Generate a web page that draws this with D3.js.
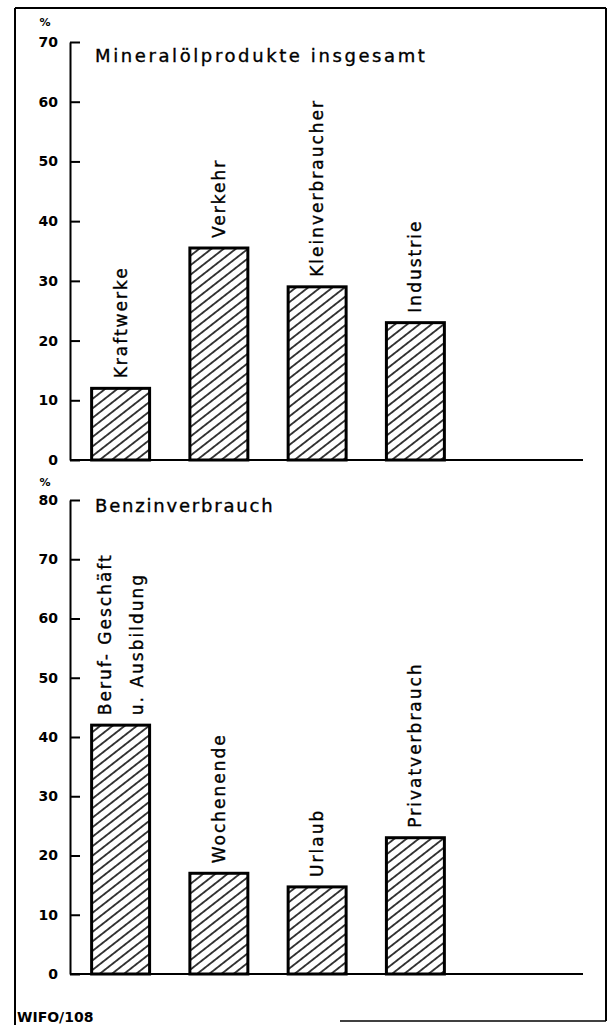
<!DOCTYPE html>
<html>
<head>
<meta charset="utf-8">
<script src="https://d3js.org/d3.v7.min.js"></script>
<style>
  body { margin: 0; background: #fff; }
  svg text { font-family: "DejaVu Sans", sans-serif; fill: #000; }
  .tick text { font-weight: bold; font-size: 14px; }
  .lbl { font-size: 17px; letter-spacing: 2px; stroke: #000; stroke-width: 0.35px; }
  .ttl { font-size: 18px; stroke: #000; stroke-width: 0.35px; }
</style>
</head>
<body>
<div id="chart"></div>
<script>
// Mineralölprodukte insgesamt
var topCats = ["Kraftwerke", "Verkehr", "Kleinverbraucher", "Industrie"];
var topValues = [12, 35.5, 29, 23];
var topTicks = [0, 10, 20, 30, 40, 50, 60, 70];

// Benzinverbrauch
var botCats = [["Beruf- Geschäft", "u. Ausbildung"], ["Wochenende"], ["Urlaub"], ["Privatverbrauch"]];
var botValues = [42, 17, 14.7, 23];
var botTicks = [0, 10, 20, 30, 40, 50, 60, 70, 80];

var width = 609, height = 1025;

var svg = d3.select("#chart").append("svg")
    .attr("width", width)
    .attr("height", height);

// hatch pattern
var defs = svg.append("defs");
defs.append("pattern")
    .attr("id", "hatch")
    .attr("patternUnits", "userSpaceOnUse")
    .attr("width", 7.5).attr("height", 7.5)
    .attr("patternTransform", "rotate(-38)")
  .append("line")
    .attr("x1", 0).attr("y1", 3.75).attr("x2", 7.5).attr("y2", 3.75)
    .attr("stroke", "#000").attr("stroke-width", 1.5);

// frame
var frame = svg.append("g").attr("fill", "none").attr("stroke", "#000").attr("stroke-width", 2);
frame.append("line").attr("x1", 15).attr("y1", 8).attr("x2", 606).attr("y2", 8);
frame.append("line").attr("x1", 15).attr("y1", 8).attr("x2", 15).attr("y2", 1025);
frame.append("line").attr("x1", 606).attr("y1", 8).attr("x2", 606).attr("y2", 1021);
frame.append("line").attr("x1", 340).attr("y1", 1021).attr("x2", 606).attr("y2", 1021).attr("stroke-width", 1.5);

var axisX = 70, axisEnd = 583;

function panel(cats, values, ticks, y0, y1, title, titleY, titleSpacing, pctY) {
  var x = d3.scaleBand()
      .domain(d3.range(cats.length))
      .range([axisX, axisX + 396])
      .paddingInner(0.41)
      .paddingOuter(0.22);

  var y = d3.scaleLinear()
      .domain([0, d3.max(ticks)])
      .range([y0, y1]);

  var g = svg.append("g");

  // baseline
  g.append("line")
      .attr("x1", axisX).attr("x2", axisEnd)
      .attr("y1", y(0)).attr("y2", y(0))
      .attr("stroke", "#000").attr("stroke-width", 2);

  // bars
  g.selectAll("rect.bar")
      .data(values)
      .enter().append("rect")
      .attr("class", "bar")
      .attr("x", function(d, i) { return x(i); })
      .attr("y", function(d) { return y(d); })
      .attr("width", x.bandwidth())
      .attr("height", function(d) { return y(0) - y(d); })
      .attr("fill", "url(#hatch)")
      .attr("stroke", "#000")
      .attr("stroke-width", 3);

  // bar labels, rotated
  cats.forEach(function(lines, i) {
    var cx = x(i) + x.bandwidth() / 2;
    var n = lines.length;
    lines.forEach(function(t, j) {
      var off = (j - (n - 1) / 2) * 32;
      g.append("text")
          .attr("class", "lbl")
          .attr("transform", "translate(" + (cx + off) + "," + (y(values[i]) - 10) + ") rotate(-90)")
          .attr("dy", "0.35em")
          .text(t);
    });
  });

  // y axis
  var ax = g.append("g")
      .attr("transform", "translate(" + axisX + ",0)")
      .call(d3.axisLeft(y).tickValues(ticks).tickFormat(d3.format("d"))
        .tickSizeInner(-10).tickSizeOuter(0).tickPadding(12));
  ax.select(".domain").attr("stroke-width", 2);
  ax.selectAll(".tick line").attr("stroke-width", 2);

  g.append("text")
      .attr("x", 45).attr("y", pctY)
      .attr("text-anchor", "middle")
      .style("font-size", "11px").style("font-weight", "bold")
      .text("%");

  g.append("text")
      .attr("class", "ttl")
      .attr("x", 95).attr("y", titleY)
      .style("letter-spacing", titleSpacing + "px")
      .text(title);
}

panel(topCats.map(function(c) { return [c]; }), topValues, topTicks, 460, 42,
      "Mineralölprodukte insgesamt", 62, 2.6, 26);
panel(botCats, botValues, botTicks, 974, 500,
      "Benzinverbrauch", 512, 1.8, 486);

svg.append("text")
    .attr("x", 17).attr("y", 1022)
    .style("font-size", "14px").style("font-weight", "bold")
    .text("WIFO/108");
</script>
</body>
</html>
